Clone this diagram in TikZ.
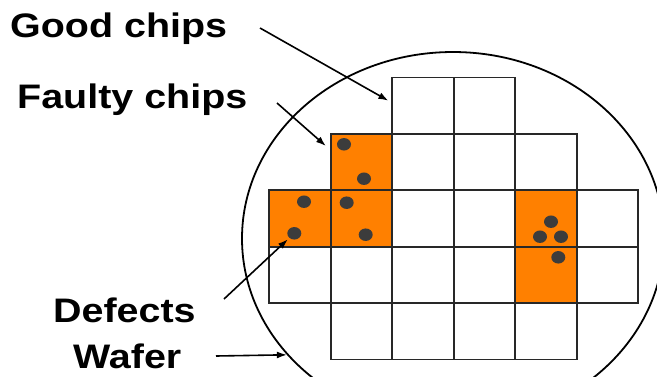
\documentclass[tikz,border=0pt]{standalone}
\usepackage{fontspec}
\newfontfamily\labfont{Liberation Sans}[FakeStretch=1.16]
\usetikzlibrary{arrows.meta,shapes.geometric}
\definecolor{faulty}{RGB}{255,128,0}
\definecolor{gridline}{RGB}{40,40,40}
\definecolor{defect}{RGB}{60,60,60}
\tikzset{
  chip/.style={rectangle,draw=gridline,line width=1.8pt,minimum width=61.5pt,minimum height=56.4pt,inner sep=0pt,fill=white},
  badchip/.style={chip,fill=faulty},
  defectdot/.style={ellipse,fill=defect,minimum width=14pt,minimum height=12.5pt,inner sep=0pt},
  label/.style={anchor=base west,inner sep=0pt,font=\labfont\bfseries\fontsize{34}{40}\selectfont},
  pointer/.style={line width=1.6pt,-{Latex[length=10pt,width=7pt]}},
}
\begin{document}
\begin{tikzpicture}[x=1pt,y=-1pt]
\useasboundingbox (0,0) rectangle (657,376);
% wafer outline, cut by the page edges
\begin{scope}
  \clip (0,0) rectangle (657,376);
  \node[ellipse,draw=black,line width=1.8pt,minimum width=422pt,minimum height=373pt,inner sep=0pt] (wafer) at (453,238.5) {};
\end{scope}
% good chips
\foreach \r/\c in {0/2,0/3,1/2,1/3,1/4,2/2,2/3,2/5,3/0,3/1,3/2,3/3,3/5,4/1,4/2,4/3,4/4}
  \node[chip] (c\r\c) at ({269.3+61.5*(\c+0.5)},{77.5+56.4*(\r+0.5)}) {};
% faulty chips
\foreach \r/\c in {1/1,2/0,2/1,2/4,3/4}
  \node[badchip] (c\r\c) at ({269.3+61.5*(\c+0.5)},{77.5+56.4*(\r+0.5)}) {};
% defects
\node[defectdot] (d1) at (344,144.3) {};
\node[defectdot] (d2) at (364,178.7) {};
\node[defectdot] (d3) at (304,201.7) {};
\node[defectdot] (d4) at (346.7,202.7) {};
\node[defectdot] (d5) at (294.3,233.3) {};
\node[defectdot] (d6) at (365.7,234.7) {};
\node[defectdot] (d7) at (551,221.7) {};
\node[defectdot] (d8) at (540,236.7) {};
\node[defectdot] (d9) at (561,236.7) {};
\node[defectdot] (d10) at (558.3,257.3) {};
% labels
\node[label] (good) at (10,37) {Good chips};
\node[label] (bad) at (17,108) {Faulty chips};
\node[label] (def) at (53,322) {Defects};
\node[label] (waf) at (73,368) {Wafer};
% pointer tails
\coordinate (goodtail) at (260,28);
\coordinate (badtail) at (277,103);
\coordinate (deftail) at (224,299);
\coordinate (waftail) at (216,356);
% pointers
\draw[pointer] (goodtail) -- ([xshift=-3pt,yshift=5pt]c02.west);
\draw[pointer] (badtail) -- ([xshift=-4pt,yshift=-13pt]c11.north west);
\draw[pointer,shorten >=2pt] (deftail) -- (d5);
\draw[pointer] (waftail) -- (wafer.215);
\end{tikzpicture}
\end{document}
